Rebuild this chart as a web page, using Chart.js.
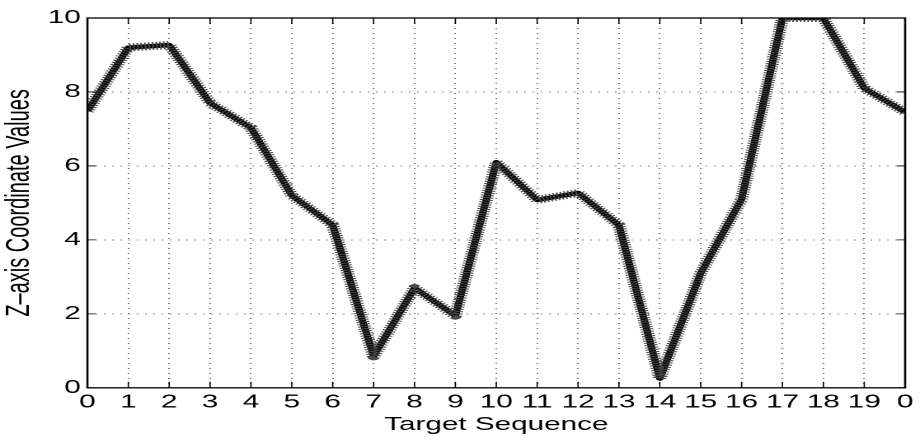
<!DOCTYPE html>
<html>
<head>
<meta charset="utf-8">
<script src="https://cdn.jsdelivr.net/npm/chart.js@4/dist/chart.umd.min.js"></script>
<style>
  html, body { margin: 0; padding: 0; background: #fff; overflow: hidden; }
  /* the source figure is a stretched raster, so the whole chart is drawn narrow and widened */
  #wrap { width: 558px; height: 440px; transform: scaleX(1.6487); transform-origin: 0 0; }
</style>
</head>
<body>
<div id="wrap"><canvas id="zChart" width="558" height="440"></canvas></div>
<script>
// target index along the sequence
var targets = [0, 1, 2, 3, 4, 5, 6, 7, 8, 9, 10, 11, 12, 13, 14, 15, 16, 17, 18, 19, 20];
// z-axis values
var zValues = [7.48, 9.2, 9.27, 7.7, 7.03, 5.2, 4.4, 0.85, 2.7, 1.95, 6.1, 5.08, 5.27, 4.4, 0.25, 3.1, 5.1, 10, 10, 8.1, 7.45];
var yTicks = [0, 2, 4, 6, 8, 10];

var points = targets.map(function (t, i) { return { x: t, y: zValues[i] }; });

// frame round the plot area plus the little inward tick marks
var frame = {
  id: 'frame',
  afterDatasetsDraw: function (chart) {
    var c = chart.ctx, a = chart.chartArea;
    var xs = chart.scales.x, ys = chart.scales.y;
    c.save();
    c.strokeStyle = '#000';
    c.lineWidth = 1.3;
    c.strokeRect(a.left, a.top, a.right - a.left, a.bottom - a.top);
    c.lineWidth = 0.8;
    c.beginPath();
    targets.forEach(function (t) {
      var px = xs.getPixelForValue(t);
      c.moveTo(px, a.bottom); c.lineTo(px, a.bottom - 6);
      c.moveTo(px, a.top); c.lineTo(px, a.top + 6);
    });
    yTicks.forEach(function (v) {
      var py = ys.getPixelForValue(v);
      c.moveTo(a.left, py); c.lineTo(a.left + 5, py);
      c.moveTo(a.right, py); c.lineTo(a.right - 5, py);
    });
    c.stroke();
    c.restore();
  }
};

new Chart(document.getElementById('zChart'), {
  type: 'line',
  data: {
    datasets: [{
      // hatched band standing in for the dense "+" markers
      data: points,
      borderColor: '#4a4a4a',
      borderWidth: 8,
      borderDash: [1, 1.3],
      borderJoinStyle: 'round',
      pointRadius: 0,
      tension: 0
    }, {
      data: points,
      borderColor: '#000',
      borderWidth: 4.5,
      borderJoinStyle: 'round',
      pointRadius: 0,
      tension: 0
    }]
  },
  options: {
    responsive: false,
    animation: false,
    devicePixelRatio: 2,
    layout: { padding: { top: 18, right: 6, left: 0, bottom: 0 } },
    plugins: { legend: { display: false }, tooltip: { enabled: false } },
    scales: {
      x: {
        type: 'linear',
        min: 0, max: 20,
        afterBuildTicks: function (s) { s.ticks = targets.map(function (v) { return { value: v }; }); },
        ticks: {
          autoSkip: false, maxRotation: 0, padding: 4,
          color: '#000',
          font: { family: 'Liberation Sans', size: 18 },
          callback: function (v) { return v === 20 ? '0' : v; }
        },
        grid: { color: '#555', lineWidth: 0.8, tickLength: 0, drawTicks: false },
        border: { display: false, dash: [1, 4] },
        title: {
          display: true, text: 'Target Sequence', color: '#000',
          font: { family: 'Liberation Sans', size: 18 }, padding: { top: -3, bottom: 4 }
        }
      },
      y: {
        min: 0, max: 10,
        afterBuildTicks: function (s) { s.ticks = yTicks.map(function (v) { return { value: v }; }); },
        ticks: {
          padding: 4, color: '#000',
          font: { family: 'Liberation Sans', size: 18 }
        },
        grid: { color: '#555', lineWidth: 0.8, tickLength: 0, drawTicks: false },
        border: { display: false, dash: [1, 4] },
        title: {
          display: true, text: 'Z\u2013axis Coordinate Values', color: '#000',
          font: { family: 'Liberation Sans', size: 20 }, padding: { top: 0, bottom: 1 }
        }
      }
    }
  },
  plugins: [frame]
});
</script>
</body>
</html>
